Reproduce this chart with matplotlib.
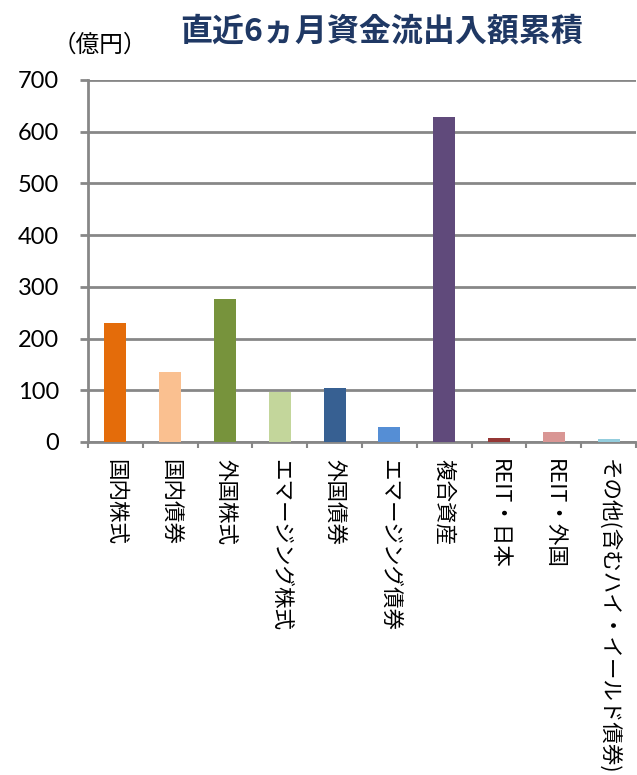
import matplotlib.pyplot as plt
import numpy as np

plt.rcParams['font.family'] = ['Noto Sans CJK JP', 'DejaVu Sans']

categories = ["国内株式", "国内債券", "外国株式", "エマージング株式", "外国債券",
              "エマージング債券", "複合資産", "REIT・日本", "REIT・外国",
              "その他(含むハイ・イールド債券)"]
values = [230, 135, 277, 97, 104, 29, 629, 8, 19, 5]
colors = ["#E46C0A", "#FAC090", "#77933C", "#C3D69B", "#376092",
          "#558ED5", "#604A7B", "#953735", "#D99694", "#93CDDD"]
yticks = [0, 100, 200, 300, 400, 500, 600, 700]

grid_gray = "#878787"

fig = plt.figure(figsize=(6.37, 7.75), dpi=100)
ax = fig.add_axes([88 / 637, 1 - 442 / 775, 548 / 637, 362 / 775])

x = np.arange(len(categories))
ax.bar(x, values, width=0.4, color=colors, zorder=3)

ax.set_xlim(-0.5, len(categories) - 0.5)
ax.set_ylim(0, 700)
ax.set_yticks(yticks)
ax.set_yticklabels([str(v) for v in yticks], fontsize=17, family=['Lato', 'DejaVu Sans'])
ax.yaxis.grid(True, color=grid_gray, linewidth=2, zorder=0)
ax.tick_params(axis='y', length=5.8, width=2, color=grid_gray, pad=15)

ax.set_xticks(x)
ax.set_xticklabels(categories, rotation=-90, fontsize=15.5, va='top', ha='center')
ax.set_xticks(np.arange(len(categories) + 1) - 0.5, minor=True)
ax.tick_params(axis='x', which='major', length=0, pad=12)
ax.tick_params(axis='x', which='minor', length=4, width=1.5, color=grid_gray)

for side in ['top', 'right']:
    ax.spines[side].set_visible(False)
ax.spines['left'].set_color(grid_gray)
ax.spines['left'].set_linewidth(2)
ax.spines['bottom'].set_color(grid_gray)
ax.spines['bottom'].set_linewidth(2)

fig.text(382 / 637, 1 - 31 / 775, "直近6ヵ月資金流出入額累積", fontsize=23,
         fontweight='bold', color="#1F3864", ha='center', va='center')
fig.text(100 / 637, 1 - 45 / 775, "（億円）", fontsize=17, ha='center', va='center')

fig.savefig("out.png", dpi=100)
